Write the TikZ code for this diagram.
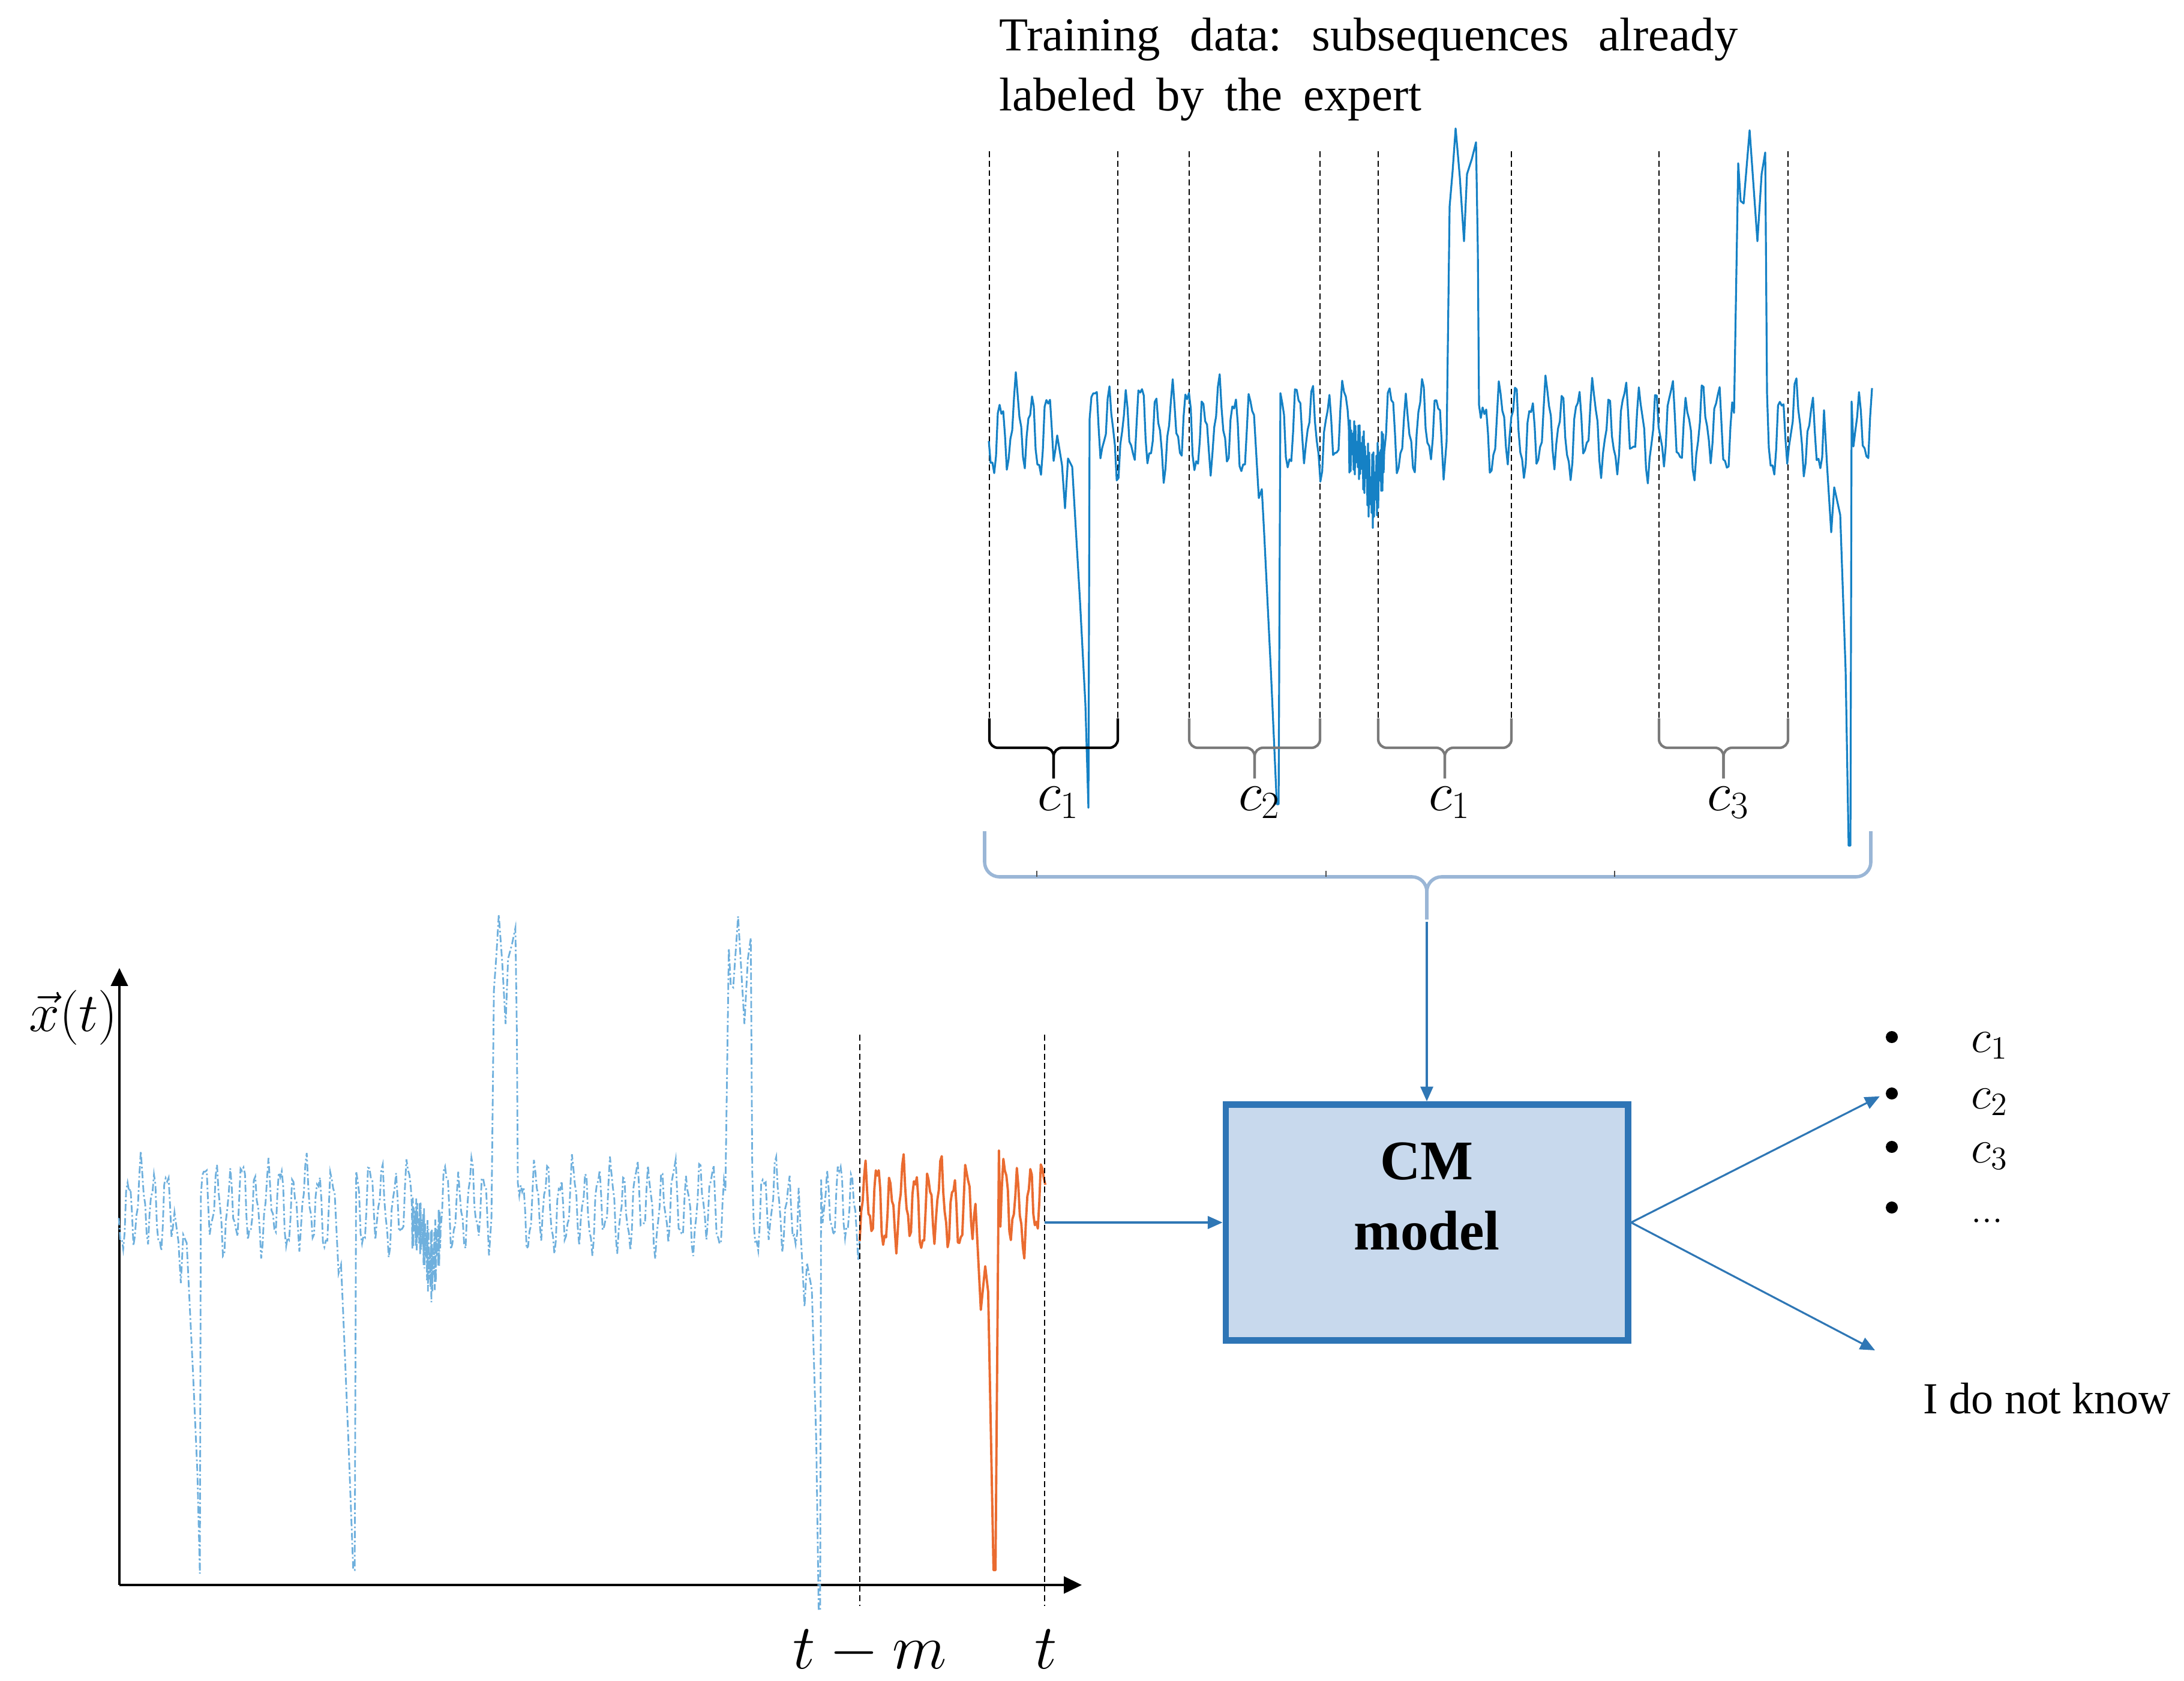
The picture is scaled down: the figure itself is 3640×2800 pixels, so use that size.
\RequirePackage{fix-cm}
\documentclass[tikz,border=0pt]{standalone}
\usepackage{fontspec}
\setmainfont{Liberation Serif}
\usetikzlibrary{arrows.meta}
\frenchspacing

\definecolor{sigblue}{HTML}{1581C5}
\definecolor{histblue}{HTML}{6FB0DD}
\definecolor{curorange}{HTML}{EA6B30}
\definecolor{boxfill}{HTML}{C8D9ED}
\definecolor{boxline}{HTML}{2E75B6}
\definecolor{flowblue}{HTML}{2F77B5}
\definecolor{bracecol}{HTML}{9AB6D6}
\definecolor{bracegray}{HTML}{7A7A7A}

% labelled training series, local frame: u to the right, v downwards
\newcommand{\trainpath}{%
  plot[domain=0:114,samples=39] (\x,{sig(\x)})
  -- (122,60) -- (127,132) -- (132,49) -- (139,63) -- (152,287) -- (161,459) -- (166,631) -- (168,-17)
  -- plot[domain=171:442,samples=91] (\x,{sig(\x)})
  -- (450,115) -- (455,100) -- (459,175) -- (470,400) -- (480,625) -- (483,625) -- (486,-60)
  -- plot[domain=489:598,samples=37] (\x,{sig(\x)})
  -- plot[domain=600:660,samples=61] (\x,{30+70*exp(-((\x-640)*(\x-640))/225)+(45+20*exp(-((\x-640)*(\x-640))/225))*sin(360*frac(\x/2.3))})
  -- plot[domain=662:758,samples=33] (\x,{sig(\x)})
  -- (763,20) -- (768,-371) -- (773,-430) -- (778,-501) -- (785,-420) -- (792,-313) -- (797,-425)
  -- (805,-450) -- (812,-478) -- (815,-300) -- (817,-40)
  -- plot[domain=820:1242,samples=142] (\x,{sig(\x)})
  -- (1249,-443) -- (1253,-380) -- (1258,-376) -- (1268,-498) -- (1281,-313) -- (1288,-425)
  -- (1294,-461) -- (1297,-60)
  -- plot[domain=1300:1392,samples=31] (\x,{sig(\x)})
  -- (1397,60) -- (1404,172) -- (1409,97) -- (1419,143) -- (1428,402) -- (1433,694) -- (1436,694) -- (1438,-46)
  -- plot[domain=1441:1472,samples=11] (\x,{sig(\x)})}

\begin{document}
\begin{tikzpicture}[x=0.01cm, y=-0.01cm]
  \tikzset{
    declare function={sig(\u)=60*sin(360*frac(\u/26))+18*sin(360*frac(\u/9.7)+50)+18*sin(360*frac(\u/68)+20);},
    trainsig/.style={draw=sigblue, line width=0.9pt, line join=round},
    histsig/.style={draw=histblue, line width=0.8pt, dash pattern=on 3.5pt off 1.2pt on 0.8pt off 1.2pt},
    cursig/.style={draw=curorange, line width=1.1pt, line join=round},
    segline/.style={black, line width=0.7pt, dash pattern=on 2.8pt off 1.7pt},
    labbrace/.style={line width=1.2pt, rounded corners=4pt},
    clab/.style={anchor=base, inner sep=0pt, font=\fontsize{26}{31}\selectfont},
    rlab/.style={anchor=base west, inner sep=0pt, font=\fontsize{22}{26}\selectfont},
    flow/.style={draw=flowblue, line width=0.9pt, -{Triangle[length=7pt,width=6pt]}},
    axis/.style={line width=1.1pt, -{Triangle[length=8.5pt,width=8pt]}},
    cmbox/.style={draw=boxline, fill=boxfill, line width=3pt, minimum width=6.7cm, minimum height=3.93cm, inner sep=0pt},
    cmtext/.style={anchor=base, inner sep=0pt, font=\bfseries\fontsize{26.5}{33}\selectfont},
    bullet/.style={circle, fill=black, minimum size=0.2cm, inner sep=0pt}
  }
  \useasboundingbox (0,0) rectangle (3640,2800);

  % training data
  \node[anchor=base west, inner sep=0pt, font=\fontsize{22.4}{28}\selectfont] (title1) at (1665,85)
    {\makebox[12.3cm][s]{Training data: subsequences already}};
  \node[anchor=base west, inner sep=0pt, font=\fontsize{22.4}{28}\selectfont] (title2) at (1665,185)
    {\makebox[7.03cm][s]{labeled by the expert}};

  \foreach \x in {1649,1863,1982,2200,2297,2519,2765,2980}
    \draw[segline] (\x,252) -- (\x,1200);

  \begin{scope}[shift={(1648,715)}]
    \draw[trainsig] \trainpath;
  \end{scope}

  \foreach \xa/\xb/\col/\k [count=\i] in {1649/1863/black/1, 1982/2200/bracegray/2, 2297/2519/bracegray/1, 2765/2980/bracegray/3} {
    \pgfmathsetmacro\xm{(\xa+\xb)/2}
    \draw[labbrace, \col] (\xa,1197) -- (\xa,1246) -- (\xm,1246) -- (\xm,1297);
    \draw[labbrace, \col] (\xb,1197) -- (\xb,1246) -- (\xm,1246) -- (\xm,1297);
    \node[clab] (lab\i) at (\xm+8,1350) {$c_{\k}$};
  }

  % whole training set
  \draw[bracecol, line width=1.6pt, rounded corners=7pt] (1641,1385) -- (1641,1461) -- (2378,1461) -- (2378,1532);
  \draw[bracecol, line width=1.6pt, rounded corners=7pt] (3118,1385) -- (3118,1461) -- (2378,1461) -- (2378,1532);
  \foreach \x in {1728,2210,2691}
    \draw[black!70, line width=0.8pt] (\x,1451) -- (\x,1461);
  \coordinate (bigtip) at (2378,1536);

  % classifier
  \node[cmbox] (cm) at (2378,2037) {};
  \node[cmtext] (cmtop) at (2378,1965) {CM};
  \node[cmtext] (cmbot) at (2378,2082) {model};
  \draw[flow] (bigtip) -- (cm.north);

  % input series
  \draw[axis] (199,2641) coordinate (o) -- (199,1613) coordinate (ytip);
  \draw[axis] (o) -- (1803,2641) coordinate (xtip);
  \node[anchor=base east, inner sep=0pt, font=\fontsize{26}{31}\selectfont] (xlab) at (197,1718) {$\vec{x}(t)$};

  \begin{scope}[shift={(198,2010)}, xscale=0.814, yscale=0.97]
    \draw[histsig] \trainpath -- plot[domain=1472:1517,samples=16] (\x,{sig(\x)});
    \draw[cursig] plot[domain=1517:1754,samples=80] (\x,{sig(\x)})
      -- (1765,178) -- (1774,103) -- (1780,147) -- (1791,625) -- (1795,625) -- (1802,-96)
      -- plot[domain=1805:1897,samples=31] (\x,{sig(\x)});
  \end{scope}

  \draw[segline] (1433,1724) -- (1433,2676);
  \draw[segline] (1741,1724) -- (1741,2676);
  \node[anchor=base, inner sep=0pt, font=\fontsize{30}{36}\selectfont] (tmlab) at (1450,2780) {$t-m$};
  \node[anchor=base, inner sep=0pt, font=\fontsize{30}{36}\selectfont] (tlab) at (1743,2780) {$t$};

  \coordinate (inp) at (1741,2037);
  \draw[flow] (inp) -- (cm.west);

  % outputs
  \foreach \y [count=\i] in {1728,1822,1911,2012}
    \node[bullet] (b\i) at (3153,\y) {};
  \node[rlab] (o1) at (3285,1753) {$c_1$};
  \node[rlab] (o2) at (3285,1847) {$c_2$};
  \node[rlab] (o3) at (3285,1937) {$c_3$};
  \node[anchor=base west, inner sep=0pt, font=\fontsize{15}{18}\selectfont] (o4) at (3285,2036) {…};
  \node[anchor=base west, inner sep=0pt, font=\fontsize{21}{25}\selectfont] (unk) at (3205,2355) {I do not know};
  \coordinate (unkin) at (3125,2250);

  \draw[flow, shorten >=3pt] (cm.east) -- (b2.west);
  \draw[flow] (cm.east) -- (unkin);
\end{tikzpicture}
\end{document}
